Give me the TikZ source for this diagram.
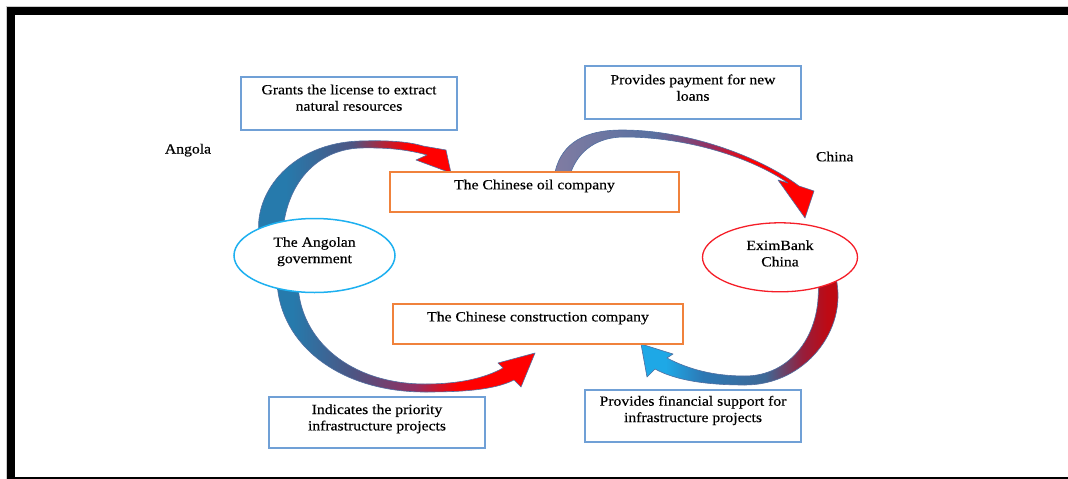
\documentclass[tikz,border=0pt]{standalone}
\usepackage{fontspec}
\setmainfont{Liberation Serif}[FakeStretch=1.12, FakeBold=0.4]
\usetikzlibrary{shapes.geometric,backgrounds}

% outline and fill colours
\definecolor{boxblue}{RGB}{112,160,214}
\definecolor{boxorange}{RGB}{240,130,60}
\definecolor{govblue}{RGB}{30,176,240}
\definecolor{bankred}{RGB}{245,30,40}
\definecolor{edgeblue}{RGB}{80,110,160}
% gradient colours of the curved arrows
\definecolor{aBlue}{RGB}{38,122,172}
\definecolor{aSlate}{RGB}{78,84,130}
\definecolor{aRed}{RGB}{255,0,0}
\definecolor{aWine}{RGB}{150,45,95}
\definecolor{bGrey}{RGB}{128,124,162}
\definecolor{bSlate}{RGB}{88,112,160}
\definecolor{dSky}{RGB}{30,168,230}
\definecolor{dBlue}{RGB}{45,120,180}
\definecolor{dSlate}{RGB}{62,104,150}
\definecolor{dWine}{RGB}{150,30,60}
\definecolor{dRed}{RGB}{190,10,20}

\pgfdeclarehorizontalshading{arrA}{100bp}{color(0bp)=(aBlue); color(33bp)=(aBlue); color(50bp)=(aSlate); color(64bp)=(aRed); color(100bp)=(aRed)}
\pgfdeclarehorizontalshading{arrB}{100bp}{color(0bp)=(bGrey); color(25bp)=(bGrey); color(44bp)=(bSlate); color(55bp)=(aWine); color(63bp)=(aRed); color(100bp)=(aRed)}
\pgfdeclarehorizontalshading{arrC}{100bp}{color(0bp)=(aBlue); color(28bp)=(aBlue); color(40bp)=(aSlate); color(52bp)=(aWine); color(60bp)=(aRed); color(100bp)=(aRed)}
\pgfdeclarehorizontalshading{arrD}{100bp}{color(0bp)=(dSky); color(31bp)=(dSky); color(40bp)=(dBlue); color(55bp)=(dSlate); color(64bp)=(dWine); color(70bp)=(dRed); color(100bp)=(dRed)}

% text set from the top of a fixed-size box
\newcommand{\boxtext}[4]{\parbox[t][#2][t]{#1}{\centering\rule{0pt}{#3}#4}}

\tikzset{
  tbox/.style={draw=boxblue, line width=1.6pt, fill=white, inner sep=0pt},
  obox/.style={draw=boxorange, line width=1.4pt, fill=white, inner sep=0pt},
  govnode/.style={ellipse, draw=govblue, line width=1.5pt, fill=white, inner sep=0pt,
    minimum width=161pt, minimum height=74pt},
  banknode/.style={ellipse, draw=bankred, line width=1.3pt, fill=white, inner sep=0pt,
    minimum width=155pt, minimum height=69pt},
  curved/.style={draw=edgeblue, line width=0.6pt, line join=round},
}

\begin{document}
\begin{tikzpicture}[x=1pt, y=-1pt, font=\fontsize{14pt}{16.4pt}\selectfont]
\useasboundingbox (0,0) rectangle (1068,479);

% page frame
\draw[black!20, line width=0.8pt] (6.5,479) -- (6.5,6.5) -- (1068,6.5);
\fill[black] (7,7) rectangle (1068,15);
\fill[black] (7,7) rectangle (15,479);
\fill[black] (7,477) rectangle (1068,479);

% actors
\node[govnode] (gov) at (314.5,255.5) {};
\node[align=center] (govtext) at (314.5,251.6) {The Angolan\\government};
\node[banknode] (bank) at (780,257.3) {};
\node[align=center] (banktext) at (780,253.4) {EximBank\\China};

\node[obox, minimum width=289pt, minimum height=40pt] (oil) at (534.5,192)
  {\boxtext{285pt}{40pt}{17.3pt}{The Chinese oil company}};
\node[obox, minimum width=290pt, minimum height=40pt] (constr) at (538,324)
  {\boxtext{286pt}{40pt}{17.4pt}{The Chinese construction company}};

% explanations
\node[tbox, minimum width=216pt, minimum height=53pt] (grant) at (349,103.5)
  {\boxtext{210pt}{53pt}{17.3pt}{Grants the license to extract\\natural resources}};
\node[tbox, minimum width=216pt, minimum height=53pt] (payment) at (693,92.5)
  {\boxtext{210pt}{53pt}{18.3pt}{Provides payment for new\\loans}};
\node[tbox, minimum width=216pt, minimum height=51pt] (priority) at (377,422.5)
  {\boxtext{210pt}{51pt}{17pt}{Indicates the priority\\infrastructure projects}};
\node[tbox, minimum width=216pt, minimum height=52pt] (support) at (693,416)
  {\boxtext{210pt}{52pt}{15.7pt}{Provides financial support for\\infrastructure projects}};

% country labels
\node[anchor=base] (angola) at (188,153.5) {Angola};
\node[anchor=base] (china) at (834.7,161.3) {China};

% curved block arrows, behind the actors
\begin{pgfonlayer}{background}
\fill[white] (0,0) rectangle (1068,479);
% government -> oil company
\shadedraw[shading=arrA, curved]
  (259,234) .. controls (254,192) and (292,143) .. (360,141)
  .. controls (390,140) and (410,142) .. (423,146)
  -- (446,150) -- (451,173) -- (416,160) -- (427,155)
  .. controls (405,149) and (385,147.5) .. (360,148)
  .. controls (314,150) and (287,186) .. (283,230) -- cycle;
% oil company -> EximBank
\shadedraw[shading=arrB, curved]
  (555,172) .. controls (562,142) and (586,130) .. (622,130)
  .. controls (690,130) and (762,158) .. (799,186)
  -- (814,191) -- (805,218) -- (778,180) -- (788,183)
  .. controls (752,158) and (688,137) .. (624,137)
  .. controls (598,137) and (579,150) .. (571,172) -- cycle;
% government -> construction company
\shadedraw[shading=arrC, curved]
  (277,282) .. controls (280,345) and (340,392) .. (425,392)
  .. controls (463,392) and (494,390) .. (514,380)
  -- (521,387) -- (535,353) -- (498,363) -- (503,368)
  .. controls (485,378) and (460,384) .. (425,384)
  .. controls (350,384) and (300,340) .. (298,284) -- cycle;
% EximBank -> construction company
\shadedraw[shading=arrD, curved]
  (836,278) .. controls (848,330) and (805,385) .. (745,385)
  .. controls (705,385) and (675,380) .. (655,369)
  -- (647,377) -- (641,344) -- (673,354) -- (667,358)
  .. controls (690,370) and (715,376) .. (745,376)
  .. controls (790,376) and (822,335) .. (818,282) -- cycle;
\end{pgfonlayer}
\end{tikzpicture}
\end{document}
